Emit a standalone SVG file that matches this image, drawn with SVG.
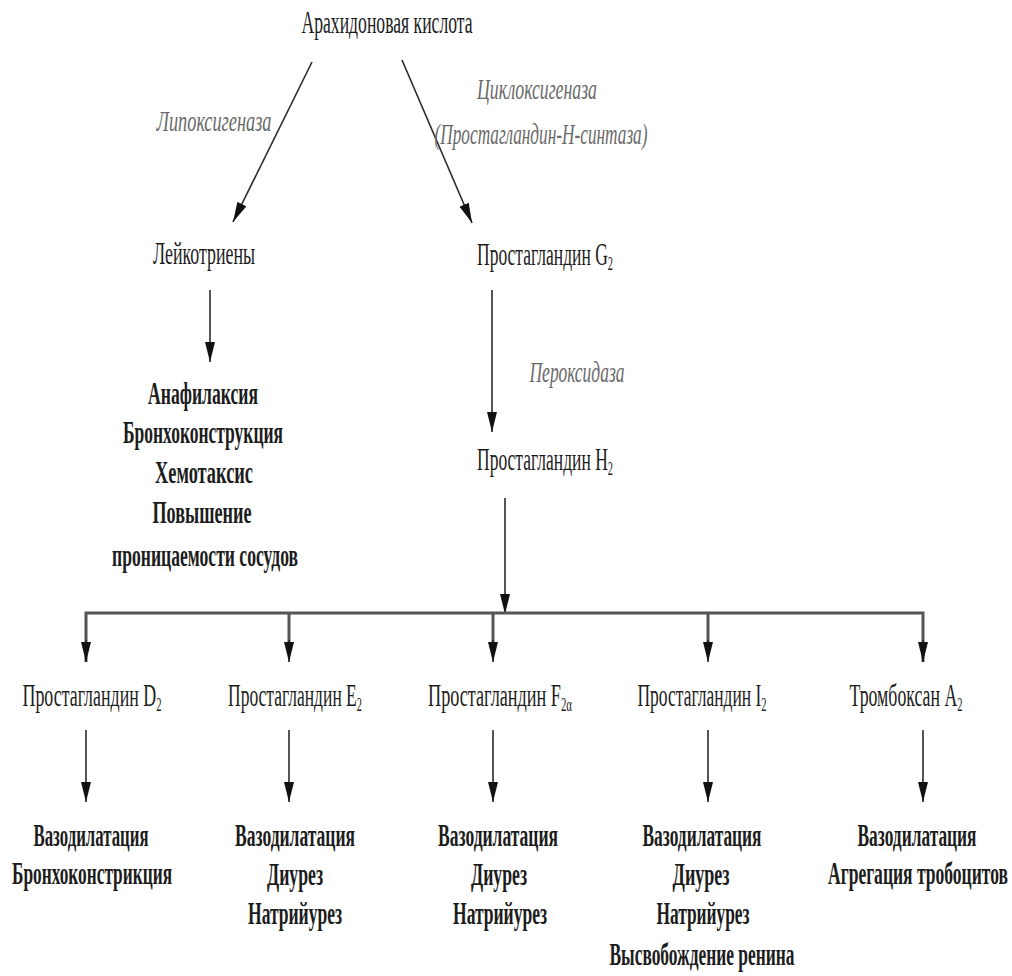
<svg xmlns="http://www.w3.org/2000/svg" width="1012" height="976" viewBox="0 0 1012 976">
<defs>
<marker id="ah" viewBox="0 0 20 10" refX="20" refY="5" markerWidth="20" markerHeight="10" markerUnits="userSpaceOnUse" orient="auto">
<path d="M0,0 L20,5 L0,10 z" fill="#111"/>
</marker>
<style>
text{font-family:"Liberation Serif","Times New Roman",serif;fill:#1c1c1c;text-anchor:middle}
.n{font-size:32px}
.b{font-size:32px;font-weight:bold}
.i{font-size:30px;font-style:italic;fill:#6a6a6a}
.sub{font-size:19px}
.ar{stroke:#2a2a2a;stroke-width:1.6;fill:none;marker-end:url(#ah)}
.bus{stroke:#555;stroke-width:3;fill:none}
</style>
</defs>
<rect width="1012" height="976" fill="#fff"/>

<g id="connectors">
<line class="ar" x1="312" y1="62" x2="233" y2="222"/>
<line class="ar" x1="402" y1="60" x2="472" y2="223"/>
<line class="ar" x1="210" y1="290" x2="210" y2="362"/>
<line class="ar" x1="492" y1="290" x2="492" y2="432"/>
<line class="ar" x1="505" y1="498" x2="505" y2="614"/>
<path class="bus" d="M86,662 V613 H923 V662"/>
<line class="bus" x1="289" y1="613" x2="289" y2="645"/>
<line class="bus" x1="493" y1="613" x2="493" y2="645"/>
<line class="bus" x1="708" y1="613" x2="708" y2="645"/>
<line class="ar" x1="86" y1="640" x2="86" y2="662"/>
<line class="ar" x1="289" y1="640" x2="289" y2="662"/>
<line class="ar" x1="493" y1="640" x2="493" y2="662"/>
<line class="ar" x1="708" y1="640" x2="708" y2="662"/>
<line class="ar" x1="923" y1="640" x2="923" y2="662"/>
<line class="ar" x1="86" y1="730" x2="86" y2="802"/>
<line class="ar" x1="289" y1="730" x2="289" y2="802"/>
<line class="ar" x1="493" y1="730" x2="493" y2="802"/>
<line class="ar" x1="708" y1="730" x2="708" y2="802"/>
<line class="ar" x1="923" y1="730" x2="923" y2="802"/>
</g>

<g id="enzyme-labels">
<text class="i" x="214" y="131" textLength="115" lengthAdjust="spacingAndGlyphs">Липоксигеназа</text>
<text class="i" x="537" y="99" textLength="120" lengthAdjust="spacingAndGlyphs">Циклоксигеназа</text>
<text class="i" x="541" y="144" textLength="213" lengthAdjust="spacingAndGlyphs">(Простагландин-Н-синтаза)</text>
<text class="i" x="577" y="382" textLength="95" lengthAdjust="spacingAndGlyphs">Пероксидаза</text>
</g>

<g id="arachidonic">
<text class="n" x="387" y="33" textLength="171" lengthAdjust="spacingAndGlyphs">Арахидоновая кислота</text>
</g>

<g id="leukotrienes">
<text class="n" x="204" y="264" textLength="102" lengthAdjust="spacingAndGlyphs">Лейкотриены</text>
</g>

<g id="leukotriene-effects">
<text class="b" x="203" y="404" textLength="110" lengthAdjust="spacingAndGlyphs">Анафилаксия</text>
<text class="b" x="203" y="443" textLength="160" lengthAdjust="spacingAndGlyphs">Бронхоконструкция</text>
<text class="b" x="204" y="483" textLength="98" lengthAdjust="spacingAndGlyphs">Хемотаксис</text>
<text class="b" x="202" y="523" textLength="99" lengthAdjust="spacingAndGlyphs">Повышение</text>
<text class="b" x="205" y="566" textLength="186" lengthAdjust="spacingAndGlyphs">проницаемости сосудов</text>
</g>

<g id="pgg2">
<text class="n" x="545" y="265" textLength="136" lengthAdjust="spacingAndGlyphs">Простагландин G<tspan class="sub" dy="5">2</tspan></text>
</g>

<g id="pgh2">
<text class="n" x="545" y="470" textLength="136" lengthAdjust="spacingAndGlyphs">Простагландин H<tspan class="sub" dy="5">2</tspan></text>
</g>

<g id="pgd2">
<text class="n" x="92" y="706" textLength="139" lengthAdjust="spacingAndGlyphs">Простагландин D<tspan class="sub" dy="5">2</tspan></text>
<text class="b" x="91" y="846" textLength="115" lengthAdjust="spacingAndGlyphs">Вазодилатация</text>
<text class="b" x="92" y="884" textLength="160" lengthAdjust="spacingAndGlyphs">Бронхоконстрикция</text>
</g>

<g id="pge2">
<text class="n" x="295" y="706" textLength="134" lengthAdjust="spacingAndGlyphs">Простагландин E<tspan class="sub" dy="5">2</tspan></text>
<text class="b" x="295" y="846" textLength="120" lengthAdjust="spacingAndGlyphs">Вазодилатация</text>
<text class="b" x="295" y="885" textLength="56" lengthAdjust="spacingAndGlyphs">Диурез</text>
<text class="b" x="295" y="924" textLength="94" lengthAdjust="spacingAndGlyphs">Натрийурез</text>
</g>

<g id="pgf2a">
<text class="n" x="500" y="706" textLength="144" lengthAdjust="spacingAndGlyphs">Простагландин F<tspan class="sub" dy="5">2α</tspan></text>
<text class="b" x="498" y="846" textLength="120" lengthAdjust="spacingAndGlyphs">Вазодилатация</text>
<text class="b" x="499" y="885" textLength="56" lengthAdjust="spacingAndGlyphs">Диурез</text>
<text class="b" x="500" y="924" textLength="94" lengthAdjust="spacingAndGlyphs">Натрийурез</text>
</g>

<g id="pgi2">
<text class="n" x="702" y="706" textLength="129" lengthAdjust="spacingAndGlyphs">Простагландин I<tspan class="sub" dy="5">2</tspan></text>
<text class="b" x="702" y="846" textLength="119" lengthAdjust="spacingAndGlyphs">Вазодилатация</text>
<text class="b" x="701" y="885" textLength="57" lengthAdjust="spacingAndGlyphs">Диурез</text>
<text class="b" x="703" y="924" textLength="93" lengthAdjust="spacingAndGlyphs">Натрийурез</text>
<text class="b" x="702" y="965" textLength="185" lengthAdjust="spacingAndGlyphs">Высвобождение ренина</text>
</g>

<g id="txa2">
<text class="n" x="906" y="706" textLength="113" lengthAdjust="spacingAndGlyphs">Тромбоксан A<tspan class="sub" dy="5">2</tspan></text>
<text class="b" x="917" y="846" textLength="119" lengthAdjust="spacingAndGlyphs">Вазодилатация</text>
<text class="b" x="918" y="884" textLength="180" lengthAdjust="spacingAndGlyphs">Агрегация тробоцитов</text>
</g>
</svg>
